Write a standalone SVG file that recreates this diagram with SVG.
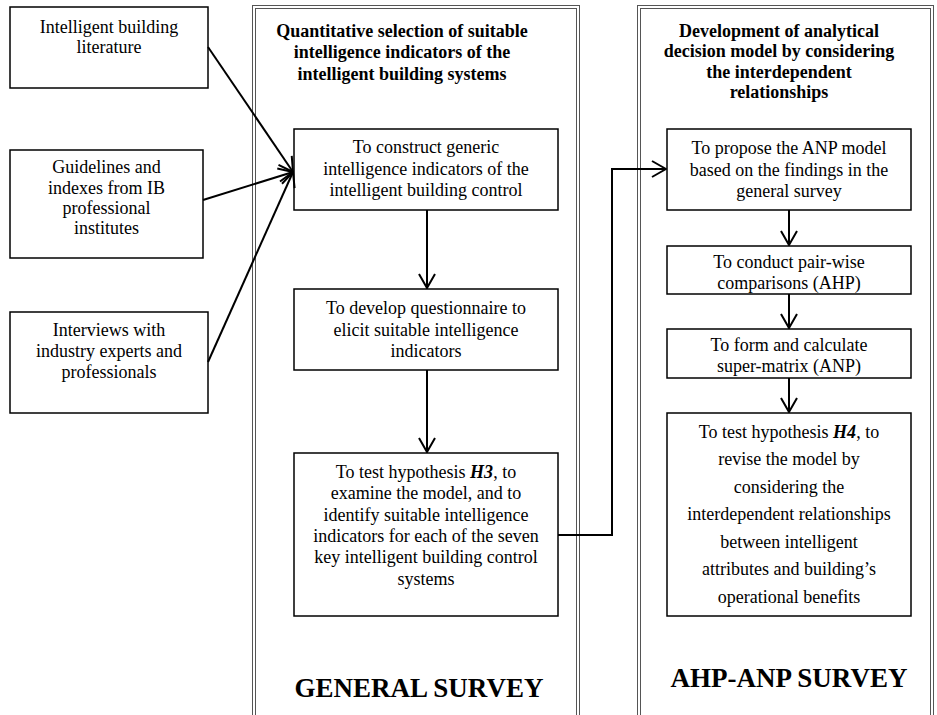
<svg xmlns="http://www.w3.org/2000/svg" width="937" height="715" viewBox="0 0 937 715">
  <defs>
    <marker id="arrow" viewBox="0 0 16 18" refX="15" refY="9" markerWidth="16" markerHeight="18" markerUnits="userSpaceOnUse" orient="auto">
      <path d="M1,1 L15,9 L1,17" fill="none" stroke="#000" stroke-width="2"/>
    </marker>
  </defs>
  <style>
    .box { fill: #fff; stroke: #000; stroke-width: 1.5; }
    .panel { fill: none; stroke: #555; stroke-width: 1; }
    .t { font-family: "Liberation Serif", "Times New Roman", serif; font-size: 18px; fill: #000; text-anchor: middle; }
    .title { font-family: "Liberation Serif", "Times New Roman", serif; font-size: 18px; font-weight: bold; fill: #000; text-anchor: middle; }
    .big { font-family: "Liberation Serif", "Times New Roman", serif; font-size: 27px; font-weight: bold; fill: #000; text-anchor: middle; }
    .hyp { font-weight: bold; font-style: italic; }
    .conn { fill: none; stroke: #000; stroke-width: 2; }
  </style>
  <rect width="937" height="715" fill="#fff"/>

  <!-- Survey panels (double borders) -->
  <g id="panel-general">
    <rect class="panel" x="252.5" y="5.5" width="327" height="720"/>
    <rect class="panel" x="255.5" y="8.5" width="321" height="720"/>
    <text class="title" x="402" y="37">Quantitative selection of suitable</text>
    <text class="title" x="402" y="58">intelligence indicators of the</text>
    <text class="title" x="402" y="80">intelligent building systems</text>
    <text class="big" x="419" y="697">GENERAL SURVEY</text>
  </g>
  <g id="panel-ahp">
    <rect class="panel" x="637.5" y="5.5" width="296" height="720"/>
    <rect class="panel" x="640.5" y="8.5" width="290" height="720"/>
    <text class="title" x="779" y="37">Development of analytical</text>
    <text class="title" x="779" y="57">decision model by considering</text>
    <text class="title" x="779" y="78">the interdependent</text>
    <text class="title" x="779" y="98">relationships</text>
    <text class="big" x="789" y="687">AHP-ANP SURVEY</text>
  </g>

  <!-- Input sources -->
  <g id="src-literature">
    <rect class="box" x="10" y="7" width="198" height="81"/>
    <text class="t" x="109" y="33">Intelligent building</text>
    <text class="t" x="109" y="53">literature</text>
  </g>
  <g id="src-guidelines">
    <rect class="box" x="10" y="150" width="193" height="108"/>
    <text class="t" x="106.5" y="173">Guidelines and</text>
    <text class="t" x="106.5" y="194">indexes from IB</text>
    <text class="t" x="106.5" y="214">professional</text>
    <text class="t" x="106.5" y="234">institutes</text>
  </g>
  <g id="src-interviews">
    <rect class="box" x="10" y="312" width="198" height="101"/>
    <text class="t" x="109" y="336">Interviews with</text>
    <text class="t" x="109" y="357">industry experts and</text>
    <text class="t" x="109" y="378">professionals</text>
  </g>

  <!-- General survey steps -->
  <g id="gs-construct">
    <rect class="box" x="294" y="129" width="264" height="81"/>
    <text class="t" x="426" y="153">To construct generic</text>
    <text class="t" x="426" y="175">intelligence indicators of the</text>
    <text class="t" x="426" y="196">intelligent building control</text>
  </g>
  <g id="gs-questionnaire">
    <rect class="box" x="294" y="289" width="264" height="81"/>
    <text class="t" x="426" y="314">To develop questionnaire to</text>
    <text class="t" x="426" y="336">elicit suitable intelligence</text>
    <text class="t" x="426" y="357">indicators</text>
  </g>
  <g id="gs-test">
    <rect class="box" x="294" y="453" width="264" height="163"/>
    <text class="t" x="426" y="478">To test hypothesis <tspan class="hyp">H3</tspan>, to</text>
    <text class="t" x="426" y="499">examine the model, and to</text>
    <text class="t" x="426" y="521">identify suitable intelligence</text>
    <text class="t" x="426" y="542">indicators for each of the seven</text>
    <text class="t" x="426" y="563">key intelligent building control</text>
    <text class="t" x="426" y="585">systems</text>
  </g>

  <!-- AHP-ANP survey steps -->
  <g id="anp-propose">
    <rect class="box" x="667" y="129" width="244" height="81"/>
    <text class="t" x="789" y="154">To propose the ANP model</text>
    <text class="t" x="789" y="176">based on the findings in the</text>
    <text class="t" x="789" y="197">general survey</text>
  </g>
  <g id="anp-pairwise">
    <rect class="box" x="667" y="246" width="244" height="48"/>
    <text class="t" x="789" y="268">To conduct pair-wise</text>
    <text class="t" x="789" y="289">comparisons (AHP)</text>
  </g>
  <g id="anp-supermatrix">
    <rect class="box" x="667" y="329" width="244" height="49"/>
    <text class="t" x="789" y="351">To form and calculate</text>
    <text class="t" x="789" y="372">super-matrix (ANP)</text>
  </g>
  <g id="anp-test">
    <rect class="box" x="667" y="413" width="244" height="203"/>
    <text class="t" x="789" y="438">To test hypothesis <tspan class="hyp">H4</tspan>, to</text>
    <text class="t" x="789" y="465">revise the model by</text>
    <text class="t" x="789" y="493">considering the</text>
    <text class="t" x="789" y="520">interdependent relationships</text>
    <text class="t" x="789" y="548">between intelligent</text>
    <text class="t" x="789" y="575">attributes and building’s</text>
    <text class="t" x="789" y="603">operational benefits</text>
  </g>

  <!-- Connectors -->
  <g id="connectors">
    <line class="conn" x1="208" y1="47" x2="293" y2="172" marker-end="url(#arrow)"/>
    <line class="conn" x1="203" y1="200" x2="293" y2="172" marker-end="url(#arrow)"/>
    <line class="conn" x1="208" y1="362" x2="293" y2="172" marker-end="url(#arrow)"/>
    <line class="conn" x1="427" y1="210" x2="427" y2="288" marker-end="url(#arrow)"/>
    <line class="conn" x1="427" y1="370" x2="427" y2="452" marker-end="url(#arrow)"/>
    <polyline class="conn" points="558,535 612,535 612,169 666,169" stroke-width="2.5" marker-end="url(#arrow)"/>
    <line class="conn" x1="789" y1="210" x2="789" y2="245" marker-end="url(#arrow)"/>
    <line class="conn" x1="789" y1="294" x2="789" y2="328" marker-end="url(#arrow)"/>
    <line class="conn" x1="789" y1="378" x2="789" y2="412" marker-end="url(#arrow)"/>
  </g>
</svg>
